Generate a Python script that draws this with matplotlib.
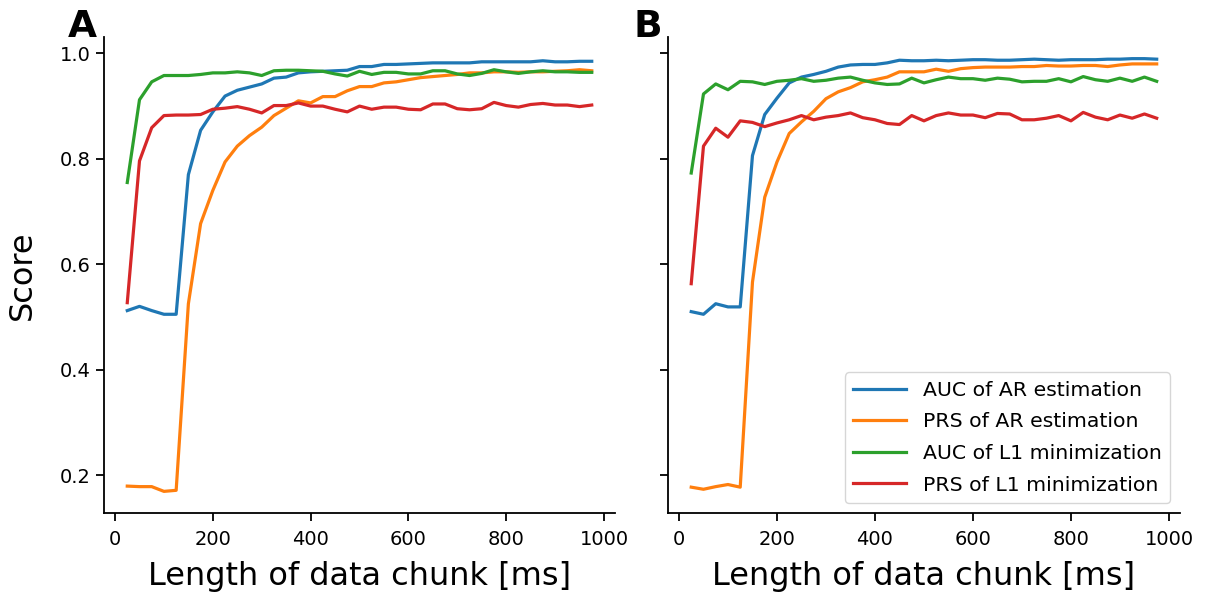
import numpy as np
import matplotlib
matplotlib.use("Agg")
import matplotlib.pyplot as plt

# chunk lengths in ms
chunk_ms = list(range(25, 1000, 25))

labels = ["AUC of AR estimation", "PRS of AR estimation",
          "AUC of L1 minimization", "PRS of L1 minimization"]

# panel A
a_auc_ar = [0.512, 0.520, 0.512, 0.505, 0.505, 0.770, 0.854, 0.889, 0.919, 0.930,
            0.936, 0.942, 0.953, 0.955, 0.963, 0.965, 0.966, 0.967, 0.968, 0.975,
            0.975, 0.979, 0.979, 0.980, 0.981, 0.982, 0.982, 0.982, 0.982, 0.984,
            0.984, 0.984, 0.984, 0.984, 0.986, 0.984, 0.984, 0.985, 0.985]
a_prs_ar = [0.179, 0.178, 0.178, 0.169, 0.171, 0.525, 0.677, 0.740, 0.794, 0.824,
            0.844, 0.860, 0.882, 0.896, 0.910, 0.906, 0.918, 0.918, 0.929, 0.937,
            0.937, 0.944, 0.946, 0.950, 0.954, 0.956, 0.958, 0.960, 0.963, 0.963,
            0.965, 0.965, 0.964, 0.965, 0.965, 0.966, 0.967, 0.969, 0.967]
a_auc_l1 = [0.755, 0.912, 0.946, 0.958, 0.958, 0.958, 0.960, 0.963, 0.963, 0.965,
            0.963, 0.958, 0.967, 0.968, 0.968, 0.967, 0.966, 0.961, 0.957, 0.966,
            0.960, 0.964, 0.964, 0.961, 0.961, 0.967, 0.967, 0.961, 0.958, 0.962,
            0.969, 0.965, 0.962, 0.965, 0.967, 0.965, 0.965, 0.964, 0.964]
a_prs_l1 = [0.527, 0.796, 0.859, 0.882, 0.883, 0.883, 0.884, 0.894, 0.896, 0.899,
            0.894, 0.887, 0.901, 0.901, 0.906, 0.900, 0.900, 0.894, 0.889, 0.900,
            0.894, 0.898, 0.898, 0.894, 0.893, 0.904, 0.904, 0.895, 0.893, 0.895,
            0.907, 0.901, 0.898, 0.903, 0.905, 0.902, 0.902, 0.899, 0.902]

# panel B
b_auc_ar = [0.510, 0.505, 0.525, 0.519, 0.519, 0.806, 0.884, 0.915, 0.944, 0.955,
            0.960, 0.966, 0.974, 0.978, 0.979, 0.979, 0.982, 0.987, 0.986, 0.986,
            0.987, 0.986, 0.987, 0.988, 0.988, 0.987, 0.987, 0.988, 0.989, 0.988,
            0.987, 0.988, 0.988, 0.988, 0.989, 0.989, 0.990, 0.990, 0.989]
b_prs_ar = [0.177, 0.173, 0.178, 0.182, 0.177, 0.566, 0.727, 0.794, 0.848, 0.870,
            0.890, 0.914, 0.927, 0.935, 0.946, 0.950, 0.955, 0.965, 0.965, 0.965,
            0.970, 0.966, 0.971, 0.973, 0.974, 0.974, 0.974, 0.975, 0.975, 0.977,
            0.976, 0.976, 0.977, 0.977, 0.975, 0.978, 0.980, 0.980, 0.980]
b_auc_l1 = [0.773, 0.923, 0.942, 0.931, 0.947, 0.946, 0.941, 0.947, 0.949, 0.952,
            0.947, 0.949, 0.953, 0.955, 0.949, 0.944, 0.941, 0.942, 0.953, 0.944,
            0.950, 0.955, 0.952, 0.952, 0.949, 0.953, 0.951, 0.946, 0.947, 0.947,
            0.952, 0.946, 0.956, 0.950, 0.947, 0.953, 0.947, 0.955, 0.947]
b_prs_l1 = [0.563, 0.824, 0.858, 0.841, 0.872, 0.869, 0.861, 0.868, 0.874, 0.882,
            0.874, 0.879, 0.882, 0.887, 0.878, 0.874, 0.867, 0.865, 0.882, 0.872,
            0.882, 0.887, 0.883, 0.883, 0.878, 0.886, 0.885, 0.874, 0.874, 0.877,
            0.882, 0.872, 0.888, 0.879, 0.874, 0.883, 0.877, 0.885, 0.877]

colors = ["#1f77b4", "#ff7f0e", "#2ca02c", "#d62728"]

fig = plt.figure(figsize=(12.07, 5.95), dpi=100)
ax_a = fig.add_axes([0.0862, 0.1378, 0.4233, 0.80])
ax_b = fig.add_axes([0.5534, 0.1378, 0.4242, 0.80], sharey=ax_a)

panels = [(ax_a, [a_auc_ar, a_prs_ar, a_auc_l1, a_prs_l1]),
          (ax_b, [b_auc_ar, b_prs_ar, b_auc_l1, b_prs_l1])]

for ax, series in panels:
    for vals, lab, col in zip(series, labels, colors):
        ax.plot(chunk_ms, vals, color=col, lw=2.3, label=lab)
    ax.spines["top"].set_visible(False)
    ax.spines["right"].set_visible(False)
    for s in ("left", "bottom"):
        ax.spines[s].set_linewidth(1.3)
    ax.tick_params(labelsize=14, width=1.3, length=6)
    ax.tick_params(axis="x", pad=6)
    ax.set_xticks([0, 200, 400, 600, 800, 1000])
    ax.set_xlabel("Length of data chunk [ms]", fontsize=23, labelpad=9)

ax_a.set_yticks([0.2, 0.4, 0.6, 0.8, 1.0])
ax_a.set_ylabel("Score", fontsize=23, labelpad=16)
ax_b.tick_params(labelleft=False)

ax_b.legend(loc="lower right", fontsize=14.7, handlelength=2.6, labelspacing=0.62)

fig.text(0.056, 0.938, "A", fontsize=27, fontweight="bold", va="baseline")
fig.text(0.5245, 0.938, "B", fontsize=27, fontweight="bold", va="baseline")

fig.savefig("out.png", dpi=100)
